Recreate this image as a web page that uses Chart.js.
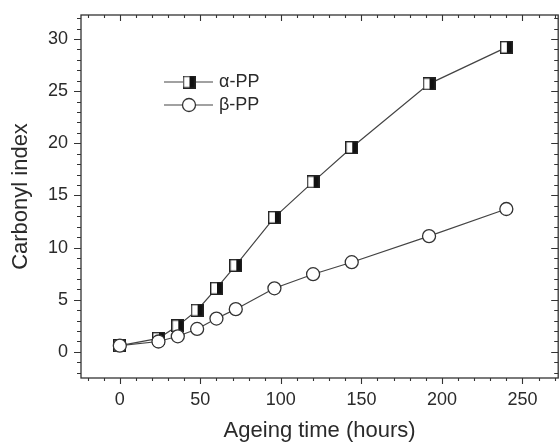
<!DOCTYPE html>
<html>
<head>
<meta charset="utf-8">
<script src="https://cdn.jsdelivr.net/npm/chart.js@4/dist/chart.umd.min.js"></script>
<style>
  html,body{margin:0;padding:0;background:#fff;overflow:hidden;}
  #wrap{width:566px;height:442px;}
</style>
</head>
<body>
<div id="wrap"><canvas id="c" width="566" height="442"></canvas></div>
<script>
// data
const hours = [0, 24, 36, 48, 60, 72, 96, 120, 144, 192, 240];
const alphaPP = [0.6, 1.3, 2.5, 4.0, 6.1, 8.3, 12.9, 16.3, 19.6, 25.7, 29.2];
const betaPP = [0.6, 1.0, 1.5, 2.2, 3.2, 4.1, 6.1, 7.45, 8.6, 11.1, 13.7];
const xTicks = [0, 50, 100, 150, 200, 250];
const yTicks = [0, 5, 10, 15, 20, 25, 30];
const seriesNames = ['\u03b1-PP', '\u03b2-PP'];

const INK = '#2a2a2a';
const FONT = "'Liberation Sans', Arial, sans-serif";

function halfSquare(s){
  const c=document.createElement('canvas');
  c.width=c.height=s;
  const g=c.getContext('2d');
  g.fillStyle='#fff'; g.fillRect(0,0,s,s);
  g.fillStyle='#111'; g.fillRect(Math.round(s*0.52),0,s,s);
  g.strokeStyle='#222'; g.lineWidth=1.4; g.strokeRect(0.7,0.7,s-1.4,s-1.4);
  return c;
}
const sq = halfSquare(13);

const pts = (ys)=>hours.map((h,i)=>({x:h,y:ys[i]}));

// chart.js pads for end labels; the figure doesn't
function noPad(s){ s.paddingTop=0; s.paddingBottom=0; s.paddingLeft=0; s.paddingRight=0; }

// frame with mirrored ticks (minor every 10 h / 1 unit)
const frame = {
  id:'frame',
  afterDatasetsDraw(chart){
    const {ctx, chartArea:a, scales:{x,y}} = chart;
    ctx.save();
    ctx.strokeStyle='#333'; ctx.lineWidth=1.3;
    ctx.strokeRect(a.left, a.top, a.right-a.left, a.bottom-a.top);
    ctx.lineWidth=1.1;
    ctx.beginPath();
    for(let v=Math.ceil(x.min/10)*10; v<=x.max; v+=10){
      const p=Math.round(x.getPixelForValue(v))+0.5, l=v%50===0?6:3;
      ctx.moveTo(p,a.bottom); ctx.lineTo(p,a.bottom+l);
      ctx.moveTo(p,a.top); ctx.lineTo(p,a.top+l);
    }
    for(let v=Math.ceil(y.min); v<=y.max; v+=1){
      const p=Math.round(y.getPixelForValue(v))+0.5, l=v%5===0?7:4;
      ctx.moveTo(a.left,p); ctx.lineTo(a.left-l,p);
      ctx.moveTo(a.right,p); ctx.lineTo(a.right-l,p);
    }
    ctx.stroke();
    ctx.restore();
  },
  afterDraw(chart){
    // legend
    const ctx=chart.ctx;
    ctx.save();
    ctx.strokeStyle='#444'; ctx.lineWidth=1.2;
    const rows=[82,105];
    rows.forEach((yy,i)=>{
      ctx.beginPath(); ctx.moveTo(164,yy); ctx.lineTo(213,yy); ctx.stroke();
      if(i===0){ ctx.drawImage(sq,189-6.5,yy-6.5); }
      else{
        ctx.beginPath(); ctx.arc(189,yy,6.5,0,Math.PI*2);
        ctx.fillStyle='#fff'; ctx.fill(); ctx.lineWidth=1.3; ctx.strokeStyle='#333'; ctx.stroke();
        ctx.lineWidth=1.2; ctx.strokeStyle='#444';
      }
      ctx.fillStyle=INK; ctx.font='18px '+FONT; ctx.textBaseline='middle';
      ctx.fillText(seriesNames[i],219,yy);
    });
    ctx.restore();
  }
};

new Chart(document.getElementById('c'),{
  type:'line',
  data:{datasets:[
    {label:seriesNames[0],data:pts(alphaPP),borderColor:'#444',borderWidth:1.2,
     pointStyle:sq,pointRadius:6.5,order:1},
    {label:seriesNames[1],data:pts(betaPP),borderColor:'#444',borderWidth:1.2,
     pointStyle:'circle',pointRadius:6.5,pointBackgroundColor:'#fff',pointBorderColor:'#333',pointBorderWidth:1.3,order:0}
  ]},
  options:{
    responsive:false,animation:false,
    layout:{padding:{top:15,right:3,left:0,bottom:0}},
    plugins:{legend:{display:false},tooltip:{enabled:false}},
    scales:{
      x:{type:'linear',min:-24.1,max:272.2,
        afterBuildTicks:s=>{s.ticks=xTicks.map(v=>({value:v}));},
        afterFit:s=>{s.height=64; noPad(s);},
        grid:{display:false,drawTicks:false},border:{display:false},
        ticks:{padding:11,color:INK,font:{family:FONT,size:18},maxRotation:0},
        title:{display:true,text:'Ageing time (hours)',color:INK,font:{family:FONT,size:22,lineHeight:1},padding:0}},
      y:{min:-2.5,max:32.3,
        afterBuildTicks:s=>{s.ticks=yTicks.map(v=>({value:v}));},
        afterFit:s=>{s.width=81; noPad(s);},
        grid:{display:false,drawTicks:false},border:{display:false},
        ticks:{padding:13,color:INK,font:{family:FONT,size:18}},
        title:{display:true,text:'Carbonyl index',color:INK,font:{family:FONT,size:22,lineHeight:1},padding:10}}
    }
  },
  plugins:[frame]
});
</script>
</body>
</html>
